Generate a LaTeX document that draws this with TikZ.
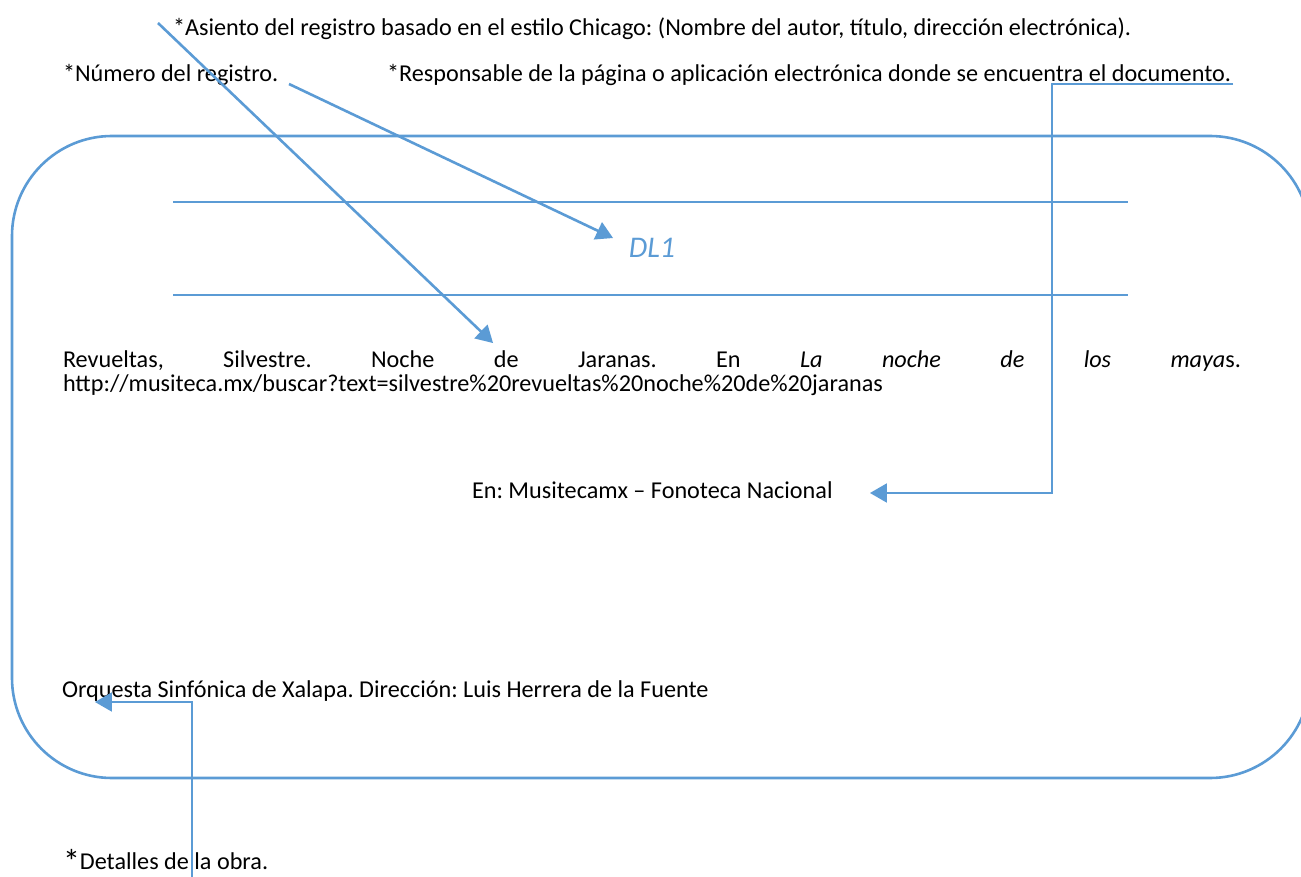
\documentclass[tikz,border=0pt]{standalone}
\usepackage{fontspec}
\setmainfont{Carlito}
\usetikzlibrary{shapes,arrows}
\usetikzlibrary{calc}
\definecolor{wordblue}{RGB}{91,155,213}
\frenchspacing

\begin{document}
\begin{tikzpicture}[x=0.5pt,y=-0.5pt]

\tikzstyle{label} = [inner sep=0, outer sep=0, anchor=base west, font=\fontsize{12.1}{12}\selectfont]
\tikzstyle{blue-line} = [draw=wordblue, line width=1.3pt]
\tikzstyle{pointer} = [blue-line, -triangle 60]

\useasboundingbox (0,0) rectangle (1301,877);
\clip (0,0) rectangle (1301,877);

% marco de la ficha
\draw[blue-line, rounded corners=50pt] (12,136) rectangle (1310,778);
\draw[blue-line] (173,202) -- (1128,202);
\draw[blue-line] (173,295) -- (1128,295);

\node [label] (asiento) at (173,36) {*Asiento del registro basado en el estilo Chicago: (Nombre del autor, título, dirección electrónica).};
\node [label] (numero) at (63,82) {*Número del registro.};
\node [label] (responsable) at (387,82) {*Responsable de la página o aplicación electrónica donde se encuentra el documento.};

\node [label, anchor=base, text=wordblue, font=\fontsize{15}{18}\selectfont\itshape] (dl1) at (652,257) {DL1};

\node [label, text width=589pt, align=left] (registro) at (63,367) {\hbox to 589pt{Revueltas,\hfill Silvestre.\hfill Noche\hfill de\hfill Jaranas.\hfill En\hfill \textit{La}\hfill \textit{noche}\hfill \textit{de}\hfill \textit{los}\hfill \textit{maya}s.}\\
http://musiteca.mx/buscar?text=silvestre\%20revueltas\%20noche\%20de\%20jaranas};

\node [label] (en) at (472,498) {En: Musitecamx -- Fonoteca Nacional};
\node [label] (orquesta) at (62,697) {Orquesta Sinfónica de Xalapa. Dirección: Luis Herrera de la Fuente};
\node [label] (detalles) at (63,869) {\raisebox{-2pt}{\fontsize{17}{17}\selectfont*}Detalles de la obra.};

\coordinate (asiento-tail) at (158,23);
\coordinate (de-tip) at (493,343);
\coordinate (numero-tail) at (289,84);
\coordinate (dl1-tip) at (613,238);
\coordinate (responsable-tail) at (1233,84);
\coordinate (responsable-bend) at (1052,84);
\coordinate (en-tip) at (870,493);
\coordinate (detalles-tail) at (192,877);
\coordinate (orquesta-tip) at (95,702);

\draw[pointer] (asiento-tail) -- (de-tip);
\draw[pointer] (numero-tail) -- (dl1-tip);
\draw[pointer] (responsable-tail) -- (responsable-bend) |- (en-tip);
\draw[pointer] (detalles-tail) |- (orquesta-tip);

\end{tikzpicture}
\end{document}
